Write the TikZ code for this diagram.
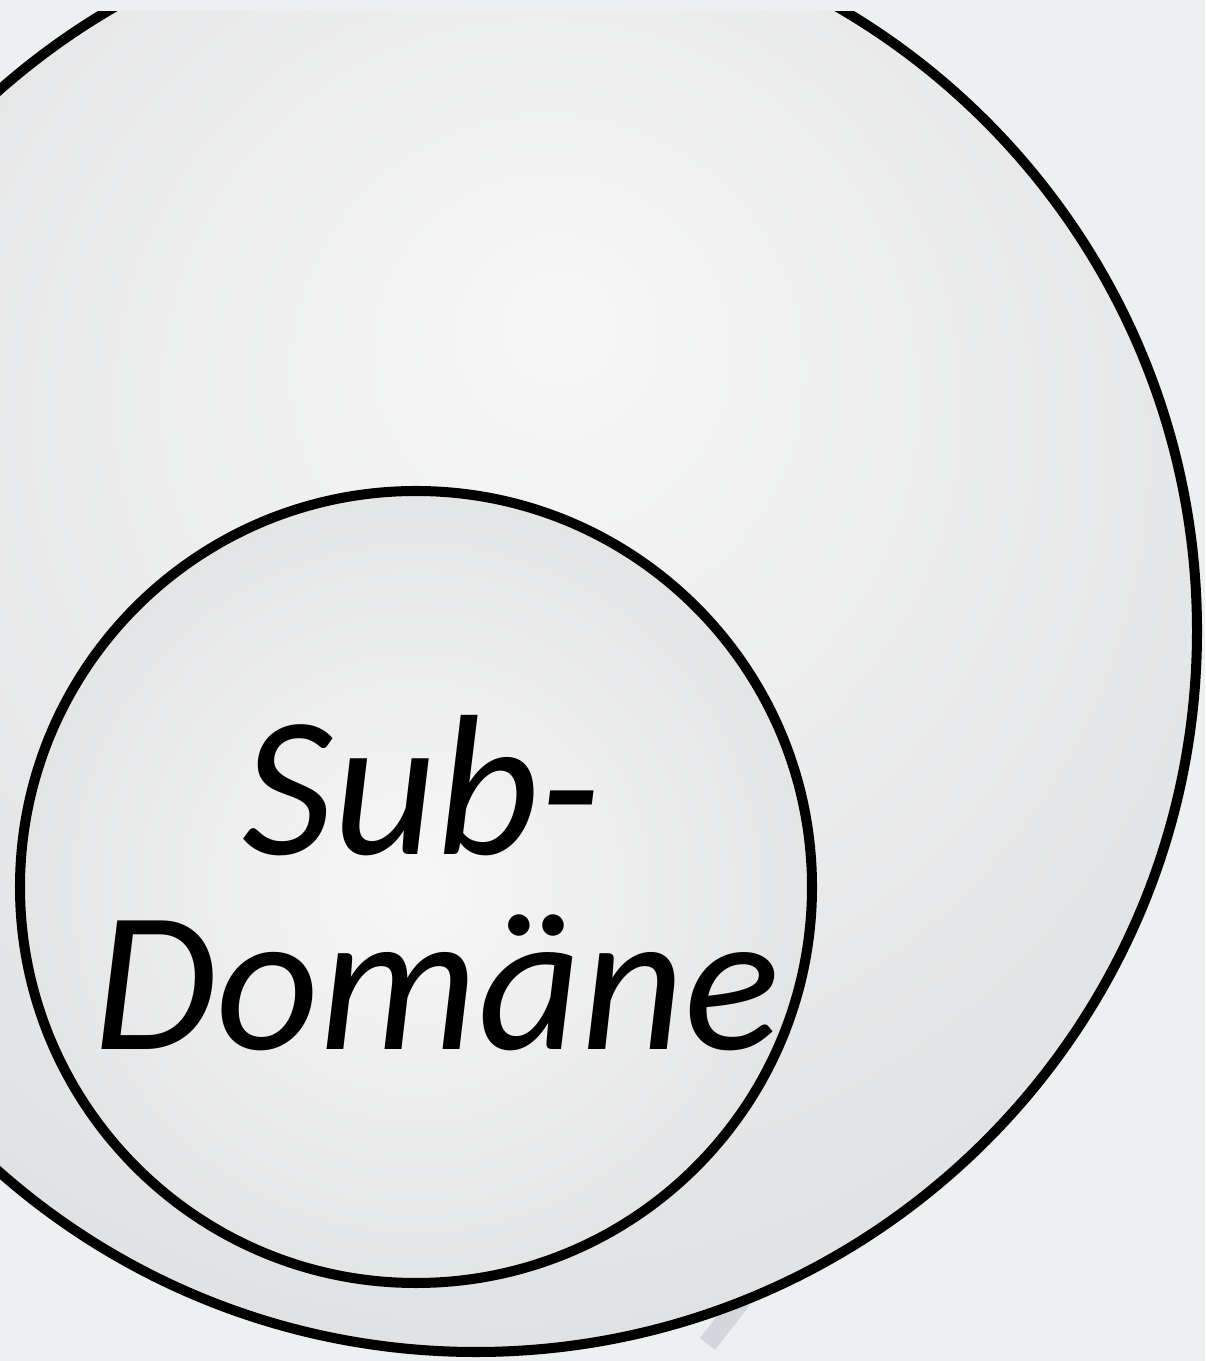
\documentclass[tikz,border=0pt]{standalone}
\usepackage{fontspec}
\setmainfont{Carlito}
\usetikzlibrary{calc}

\definecolor{bgcol}{HTML}{ECF0F1}
\definecolor{ballin}{HTML}{F7F7F7}
\definecolor{ballmid}{HTML}{E4E5E6}
\definecolor{ballout}{HTML}{D3D4D7}
\definecolor{barcol}{HTML}{D3D7DB}

\pgfdeclareradialshading{bigball}{\pgfpoint{3bp}{11bp}}{color(0bp)=(ballin); color(25bp)=(ballmid); color(50bp)=(ballout)}
\pgfdeclareradialshading{subball}{\pgfpoint{0bp}{0bp}}{color(0bp)=(ballin); color(25bp)=(ballmid); color(50bp)=(ballout)}

\tikzset{
  rim/.style={line width=2.85pt, draw=black},
  label/.style={font=\fontsize{57}{62}\selectfont\itshape, inner sep=0pt, anchor=base}
}

\begin{document}
\begin{tikzpicture}[x=0.01cm,y=0.01cm]

\useasboundingbox (0,0) rectangle (1205,1361);
\fill[bgcol] (0,0) rectangle (1205,1361);

% grey bar behind the domain
\fill[barcol] (700,23) -- (715,11) -- (750,56) -- (735,68) -- cycle;

\begin{scope}
\clip (0,0) rectangle (1205,1349);

% outer domain
\coordinate (dom) at (476,730);
\shadedraw[shading=bigball, rim] (dom) circle (721);

% sub-domain
\coordinate (sub) at (416,474);
\shadedraw[shading=subball, rim] (sub) circle (396);
\end{scope}

% text
\node[label] (line1) at (422,506) {Sub-};
\node[label] (line2) at (437,311) {Domäne};

\end{tikzpicture}
\end{document}
